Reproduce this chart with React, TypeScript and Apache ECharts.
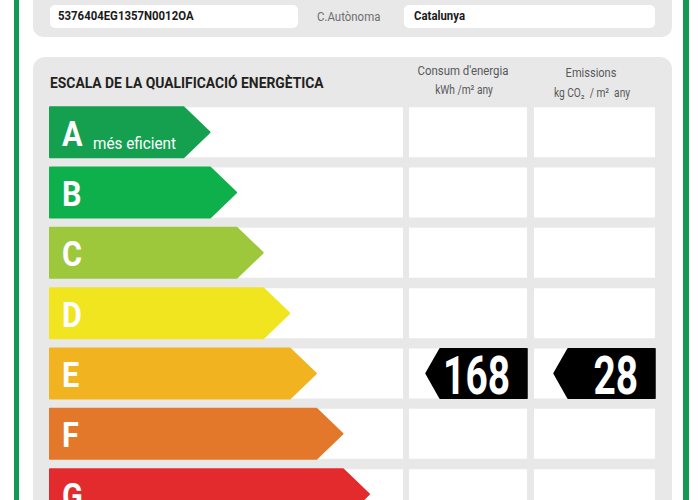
import React, { useEffect, useRef } from "react";
import * as echarts from "echarts";

const classes = ["A", "B", "C", "D", "E", "F", "G"];
const arrowLengths = [6, 7, 8, 9, 10, 11, 12];
const classColors = ["#14a04f", "#0db04b", "#9dc83c", "#f1e51f", "#f2b321", "#e3782a", "#e32a2c"];
const bestLabel = "més eficient";
const energyClass = "E";
const energyValue = 168;
const emissionsClass = "E";
const emissionsValue = 28;
const refCode = "5376404EG1357N0012OA";
const regionLabel = "C.Autònoma";
const regionValue = "Catalunya";
const scaleTitle = "ESCALA DE LA QUALIFICACIÓ ENERGÈTICA";
const energyHeader = "Consum d'energia";
const energyUnit = "kWh /m² any";
const emissionsHeader = "Emissions";
const emissionsUnit = "kg CO₂  / m²  any";

const FONT = "Roboto, 'Liberation Sans', sans-serif";
const ROW_RIGHT = 403;
const COLS = [
  [409, 527],
  [534, 655],
];

export default function App() {
  const ref = useRef<HTMLDivElement>(null);
  useEffect(() => {
    if (!ref.current) return;
    const chart = echarts.init(ref.current, null, { renderer: "svg" });
    const tagData = [
      [0, classes.indexOf(energyClass), energyValue],
      [1, classes.indexOf(emissionsClass), emissionsValue],
    ];
    chart.setOption({
      animation: false,
      backgroundColor: "#ffffff",
      grid: { left: 50, top: 102, width: 319, height: 398 },
      xAxis: { type: "value", min: 0, max: 12, show: false },
      yAxis: { type: "value", min: -0.5, max: 6.097, inverse: true, show: false },
      graphic: [
        { type: "rect", shape: { x: 14, y: 0, width: 5, height: 500 }, style: { fill: "#129a55" } },
        { type: "rect", shape: { x: 683, y: 0, width: 6, height: 500 }, style: { fill: "#129a55" } },
        { type: "rect", shape: { x: 33, y: -20, width: 639, height: 57, r: 10 }, style: { fill: "#e8e8e8" } },
        { type: "rect", shape: { x: 50, y: 5, width: 248, height: 23, r: 5 }, style: { fill: "#ffffff" } },
        { type: "rect", shape: { x: 404, y: 5, width: 251, height: 23, r: 5 }, style: { fill: "#ffffff" } },
        { type: "text", x: 58, y: 16, scaleX: 0.95, style: { text: refCode, x: 0, y: 0, fill: "#1a1a1a", font: `bold 12px ${FONT}`, verticalAlign: "middle" } },
        { type: "text", x: 317, y: 17, scaleX: 0.88, style: { text: regionLabel, x: 0, y: 0, fill: "#6d6e71", font: `13px ${FONT}`, verticalAlign: "middle" } },
        { type: "text", x: 414, y: 16, scaleX: 0.95, style: { text: regionValue, x: 0, y: 0, fill: "#1a1a1a", font: `bold 12px ${FONT}`, verticalAlign: "middle" } },
        { type: "rect", shape: { x: 33, y: 57, width: 639, height: 470, r: 12 }, style: { fill: "#e8e8e8" } },
        { type: "text", x: 50, y: 83, scaleX: 0.99, style: { text: scaleTitle, x: 0, y: 0, fill: "#231f20", font: `bold 14px ${FONT}`, verticalAlign: "middle" } },
        { type: "text", x: 463, y: 71, scaleX: 0.88, style: { text: energyHeader, x: 0, y: 0, fill: "#58595b", font: `13px ${FONT}`, align: "center", verticalAlign: "middle" } },
        { type: "text", x: 464, y: 90, scaleX: 0.85, style: { text: energyUnit, x: 0, y: 0, fill: "#58595b", font: `12px ${FONT}`, align: "center", verticalAlign: "middle" } },
        { type: "text", x: 591, y: 73, scaleX: 0.85, style: { text: emissionsHeader, x: 0, y: 0, fill: "#58595b", font: `13px ${FONT}`, align: "center", verticalAlign: "middle" } },
        { type: "text", x: 592, y: 93, scaleX: 0.85, style: { text: emissionsUnit, x: 0, y: 0, fill: "#58595b", font: `12px ${FONT}`, align: "center", verticalAlign: "middle" } },
      ],
      series: [
        {
          type: "custom",
          clip: false,
          data: classes.map((c, i) => [arrowLengths[i], i]),
          renderItem: (params: any, api: any) => {
            const idx = api.value(1);
            const len = api.value(0);
            const [xTip, yc] = api.coord([len, idx]);
            const [x0] = api.coord([0, idx]);
            const band = api.size([0, 1])[1];
            const h = band - 10.3;
            const top = yc - h / 2;
            const bot = yc + h / 2;
            const chev = h / 2 + 1;
            const children: any[] = [
              { type: "rect", shape: { x: x0, y: top, width: ROW_RIGHT - x0, height: h }, style: { fill: "#ffffff" } },
              ...COLS.map(([a, b]) => ({ type: "rect", shape: { x: a, y: top, width: b - a, height: h }, style: { fill: "#ffffff" } })),
              {
                type: "polygon",
                shape: { points: [[x0, top], [xTip - chev, top], [xTip, yc], [xTip - chev, bot], [x0, bot]] },
                style: { fill: classColors[idx], stroke: classColors[idx], lineWidth: 2, lineJoin: "round" },
              },
              {
                type: "text",
                x: x0 + 12,
                y: yc + 1,
                scaleX: 0.85,
                style: { text: classes[idx], x: 0, y: 0, fill: "#ffffff", font: `bold 36px ${FONT}`, verticalAlign: "middle" },
              },
            ];
            if (idx === 0) {
              children.push({
                type: "text",
                x: x0 + 43,
                y: yc + 11,
                scaleX: 0.9,
                style: { text: bestLabel, x: 0, y: 0, fill: "#ffffff", font: `17px ${FONT}`, verticalAlign: "middle" },
              });
            }
            return { type: "group", children };
          },
        },
        {
          type: "custom",
          clip: false,
          z: 5,
          data: tagData,
          renderItem: (params: any, api: any) => {
            const col = api.value(0);
            const idx = api.value(1);
            const val = api.value(2);
            const [, yc] = api.coord([0, idx]);
            const band = api.size([0, 1])[1];
            const h = band - 11;
            const top = yc - h / 2;
            const bot = yc + h / 2;
            const right = COLS[col][1];
            const left = right - 101;
            return {
              type: "group",
              children: [
                {
                  type: "polygon",
                  shape: { points: [[left, yc], [left + 14, top], [right, top], [right, bot], [left + 14, bot]] },
                  style: { fill: "#000000", stroke: "#000000", lineWidth: 1.5, lineJoin: "round" },
                },
                {
                  type: "text",
                  x: right - 17,
                  y: yc + 2,
                  scaleX: 0.72,
                  style: { text: String(val), x: 0, y: 0, fill: "#ffffff", font: `bold 54px ${FONT}`, align: "right", verticalAlign: "middle" },
                },
              ],
            };
          },
        },
      ],
    });
    return () => chart.dispose();
  }, []);
  return <div ref={ref} style={{ position: "absolute", left: 0, top: 0, width: 700, height: 500 }} />;
}
